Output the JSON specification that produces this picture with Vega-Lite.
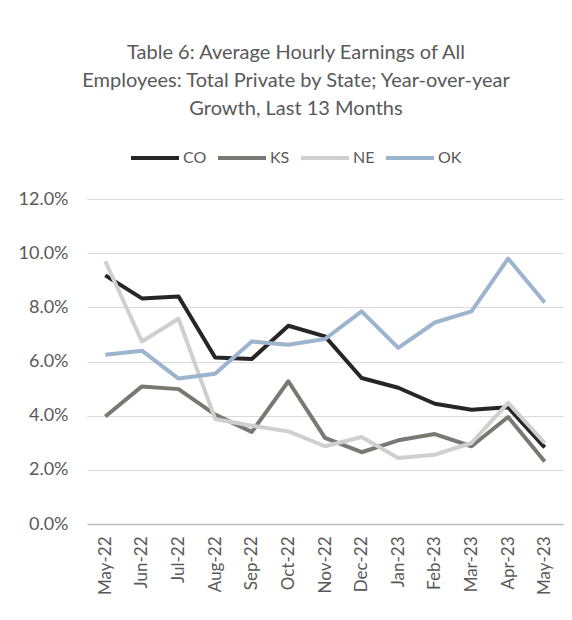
{
  "$schema": "https://vega.github.io/schema/vega-lite/v6.json",
  "width": 476,
  "height": 325,
  "autosize": "none",
  "padding": {"left": 87, "top": 199, "right": 9, "bottom": 96},
  "background": "white",
  "title": {
    "text": ["Table 6: Average Hourly Earnings of All", "Employees: Total Private by State; Year-over-year", "Growth, Last 13 Months"],
    "font": "Lato",
    "fontSize": 20,
    "fontWeight": "normal",
    "color": "#595959",
    "lineHeight": 28,
    "anchor": "middle",
    "frame": "group",
    "dx": -29,
    "dy": 67,
    "offset": 80
  },
  "data": {
    "values": [
      {"month": "May-22", "state": "CO", "value": 0.0918},
      {"month": "Jun-22", "state": "CO", "value": 0.0833},
      {"month": "Jul-22", "state": "CO", "value": 0.0840},
      {"month": "Aug-22", "state": "CO", "value": 0.0615},
      {"month": "Sep-22", "state": "CO", "value": 0.0609},
      {"month": "Oct-22", "state": "CO", "value": 0.0732},
      {"month": "Nov-22", "state": "CO", "value": 0.0693},
      {"month": "Dec-22", "state": "CO", "value": 0.0539},
      {"month": "Jan-23", "state": "CO", "value": 0.0503},
      {"month": "Feb-23", "state": "CO", "value": 0.0444},
      {"month": "Mar-23", "state": "CO", "value": 0.0422},
      {"month": "Apr-23", "state": "CO", "value": 0.0431},
      {"month": "May-23", "state": "CO", "value": 0.0283},
      {"month": "May-22", "state": "KS", "value": 0.0397},
      {"month": "Jun-22", "state": "KS", "value": 0.0508},
      {"month": "Jul-22", "state": "KS", "value": 0.0498},
      {"month": "Aug-22", "state": "KS", "value": 0.0404},
      {"month": "Sep-22", "state": "KS", "value": 0.0340},
      {"month": "Oct-22", "state": "KS", "value": 0.0527},
      {"month": "Nov-22", "state": "KS", "value": 0.0318},
      {"month": "Dec-22", "state": "KS", "value": 0.0265},
      {"month": "Jan-23", "state": "KS", "value": 0.0309},
      {"month": "Feb-23", "state": "KS", "value": 0.0332},
      {"month": "Mar-23", "state": "KS", "value": 0.0287},
      {"month": "Apr-23", "state": "KS", "value": 0.0395},
      {"month": "May-23", "state": "KS", "value": 0.0231},
      {"month": "May-22", "state": "NE", "value": 0.0970},
      {"month": "Jun-22", "state": "NE", "value": 0.0674},
      {"month": "Jul-22", "state": "NE", "value": 0.0758},
      {"month": "Aug-22", "state": "NE", "value": 0.0388},
      {"month": "Sep-22", "state": "NE", "value": 0.0363},
      {"month": "Oct-22", "state": "NE", "value": 0.0342},
      {"month": "Nov-22", "state": "NE", "value": 0.0287},
      {"month": "Dec-22", "state": "NE", "value": 0.0321},
      {"month": "Jan-23", "state": "NE", "value": 0.0244},
      {"month": "Feb-23", "state": "NE", "value": 0.0256},
      {"month": "Mar-23", "state": "NE", "value": 0.0299},
      {"month": "Apr-23", "state": "NE", "value": 0.0447},
      {"month": "May-23", "state": "NE", "value": 0.0299},
      {"month": "May-22", "state": "OK", "value": 0.0625},
      {"month": "Jun-22", "state": "OK", "value": 0.0640},
      {"month": "Jul-22", "state": "OK", "value": 0.0537},
      {"month": "Aug-22", "state": "OK", "value": 0.0555},
      {"month": "Sep-22", "state": "OK", "value": 0.0674},
      {"month": "Oct-22", "state": "OK", "value": 0.0662},
      {"month": "Nov-22", "state": "OK", "value": 0.0683},
      {"month": "Dec-22", "state": "OK", "value": 0.0785},
      {"month": "Jan-23", "state": "OK", "value": 0.0650},
      {"month": "Feb-23", "state": "OK", "value": 0.0744},
      {"month": "Mar-23", "state": "OK", "value": 0.0785},
      {"month": "Apr-23", "state": "OK", "value": 0.0980},
      {"month": "May-23", "state": "OK", "value": 0.0818}
    ]
  },
  "mark": {"type": "line", "strokeWidth": 4, "strokeJoin": "round", "strokeCap": "butt"},
  "encoding": {
    "x": {
      "field": "month",
      "type": "ordinal",
      "sort": null,
      "title": null,
      "scale": {"type": "point", "padding": 0.5},
      "axis": {
        "labelAngle": -90,
        "labelFont": "Lato",
        "labelFontSize": 17,
        "labelColor": "#595959",
        "labelPadding": 12,
        "ticks": false,
        "domainColor": "#bfbfbf",
        "domainWidth": 1.5,
        "grid": false
      }
    },
    "y": {
      "field": "value",
      "type": "quantitative",
      "title": null,
      "scale": {"domain": [0, 0.12], "nice": false},
      "axis": {
        "format": ".1%",
        "values": [0, 0.02, 0.04, 0.06, 0.08, 0.1, 0.12],
        "labelFont": "Lato",
        "labelFontSize": 18,
        "labelColor": "#595959",
        "labelPadding": 19,
        "ticks": false,
        "domain": false,
        "gridColor": "#d9d9d9",
        "gridWidth": 1
      }
    },
    "color": {
      "field": "state",
      "type": "nominal",
      "scale": {"domain": ["CO", "KS", "NE", "OK"], "range": ["#262626", "#7a7873", "#d0cece", "#9db4cf"]},
      "legend": {
        "title": null,
        "orient": "none",
        "direction": "horizontal",
        "legendX": 42,
        "legendY": -67,
        "symbolType": "stroke",
        "symbolSize": 2304,
        "symbolStrokeWidth": 4,
        "labelFont": "Lato",
        "labelFontSize": 16,
        "labelColor": "#595959",
        "labelOffset": 2,
        "columnPadding": 3
      }
    }
  },
  "config": {"view": {"stroke": null}}
}
